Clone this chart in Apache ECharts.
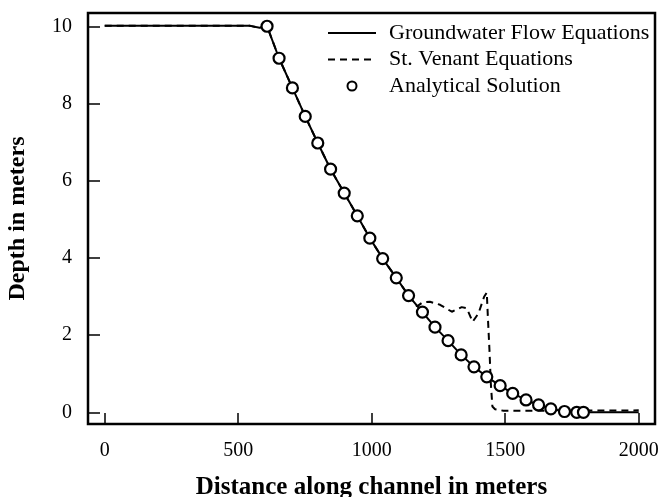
<!DOCTYPE html>
<html>
<head>
<meta charset="utf-8">
<script src="https://cdn.jsdelivr.net/npm/echarts@6/dist/echarts.min.js"></script>
<style>html,body{margin:0;padding:0;background:#fff;}#c{width:660px;height:497px;}</style>
</head>
<body>
<div id="c"></div>
<script>
// Tick labels
var xTicks = [0, 500, 1000, 1500, 2000];
var yTicks = [0, 2, 4, 6, 8, 10];

// Analytical solution (circles)
var anaX = [608, 653, 703, 751, 798, 846, 897, 946, 993, 1041, 1092, 1138, 1190, 1237, 1286, 1335, 1383, 1431, 1481, 1528, 1578, 1625, 1671, 1722, 1768, 1793];
var anaY = [10.02, 9.19, 8.42, 7.68, 6.99, 6.31, 5.69, 5.10, 4.52, 3.99, 3.49, 3.03, 2.60, 2.21, 1.86, 1.49, 1.18, 0.92, 0.69, 0.49, 0.32, 0.19, 0.09, 0.02, 0.0, 0.0];

// Groundwater flow equations (solid)
var gwX = [0, 545, 580, 608, 653, 703, 751, 798, 846, 897, 946, 993, 1041, 1092, 1138, 1190, 1237, 1286, 1335, 1383, 1431, 1481, 1528, 1578, 1625, 1671, 1722, 1768, 1793, 2000];
var gwY = [10.03, 10.03, 9.98, 10.02, 9.19, 8.42, 7.68, 6.99, 6.31, 5.69, 5.10, 4.52, 3.99, 3.49, 3.03, 2.60, 2.21, 1.86, 1.49, 1.18, 0.92, 0.69, 0.49, 0.32, 0.19, 0.09, 0.02, 0.0, 0.0, 0.0];

// St. Venant equations (dashed)
var svX = [0, 545, 580, 608, 653, 703, 751, 798, 846, 897, 946, 993, 1041, 1092, 1138, 1170, 1190, 1218, 1256, 1300, 1337, 1356, 1378, 1400, 1421, 1431, 1435, 1441, 1446, 1452, 1462, 1493, 2000];
var svY = [10.03, 10.03, 9.98, 10.02, 9.19, 8.42, 7.68, 6.99, 6.31, 5.69, 5.10, 4.52, 3.99, 3.49, 3.03, 2.75, 2.85, 2.87, 2.79, 2.61, 2.73, 2.70, 2.35, 2.57, 3.00, 3.11, 2.48, 1.62, 0.76, 0.15, 0.08, 0.04, 0.05];

function zip(a, b) { return a.map(function (v, i) { return [v, b[i]]; }); }

var FONT = 'Liberation Serif';
var hideSym = {opacity: 0};
var chart = echarts.init(document.getElementById('c'), null, {renderer: 'canvas'});
chart.setOption({
  animation: false,
  backgroundColor: '#fff',
  grid: {left: 88, top: 13, right: 5, bottom: 73, show: true, borderColor: '#000', borderWidth: 2.5,
    backgroundColor: 'transparent', containLabel: false, outerBoundsMode: 'none'},
  legend: {
    orient: 'vertical', left: 327, top: 22, padding: 0, itemGap: 4.5,
    itemWidth: 48, itemHeight: 9,
    data: [
      {name: 'Groundwater Flow Equations', itemStyle: hideSym},
      {name: 'St. Venant Equations', itemStyle: hideSym},
      {name: 'Analytical Solution'}
    ],
    textStyle: {fontFamily: FONT, fontSize: 22, color: '#000', lineHeight: 22, padding: [0, 0, 0, 8]}
  },
  xAxis: {
    type: 'value', min: -62.6, max: 2061,
    name: 'Distance along channel in meters', nameLocation: 'middle', nameGap: 51,
    nameTextStyle: {fontFamily: FONT, fontSize: 25, fontWeight: 'bold', color: '#000'},
    axisLine: {show: false, onZero: false},
    axisTick: {show: true, inside: true, length: 11, customValues: xTicks, lineStyle: {color: '#000', width: 1.5}},
    axisLabel: {customValues: xTicks, margin: 17, fontFamily: FONT, fontSize: 20, color: '#000',
      formatter: function (v) { return String(v); }},
    splitLine: {show: false}
  },
  yAxis: {
    type: 'value', min: -0.304, max: 10.364,
    name: 'Depth in meters', nameLocation: 'middle', nameGap: 58, nameRotate: 90,
    nameTextStyle: {fontFamily: FONT, fontSize: 24, fontWeight: 'bold', color: '#000'},
    axisLine: {show: false, onZero: false},
    axisTick: {show: true, inside: true, length: 12, customValues: yTicks, lineStyle: {color: '#000', width: 1.5}},
    axisLabel: {customValues: yTicks, margin: 16, fontFamily: FONT, fontSize: 20, color: '#000', padding: [4, 0, 0, 0],
      formatter: function (v) { return String(v); }},
    splitLine: {show: false}
  },
  series: [
    {
      name: 'St. Venant Equations', type: 'line', data: zip(svX, svY),
      symbol: 'none', showSymbol: false, z: 2,
      lineStyle: {color: '#000', width: 2, type: [7, 5]}, itemStyle: {color: '#000'}
    },
    {
      name: 'Groundwater Flow Equations', type: 'line', data: zip(gwX, gwY),
      symbol: 'none', showSymbol: false, z: 3,
      lineStyle: {color: '#000', width: 2}, itemStyle: {color: '#000'}
    },
    {
      name: 'Analytical Solution', type: 'scatter', data: zip(anaX, anaY),
      symbol: 'circle', symbolSize: 11, z: 4,
      itemStyle: {color: '#fff', borderColor: '#000', borderWidth: 2.2, opacity: 1}
    }
  ]
});
</script>
</body>
</html>
